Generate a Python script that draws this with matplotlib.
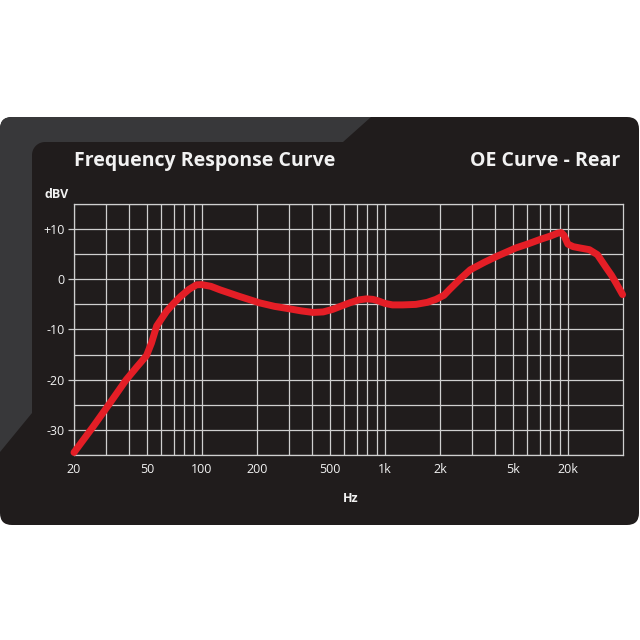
import matplotlib
matplotlib.use("Agg")
import matplotlib.pyplot as plt
import numpy as np
from matplotlib.patches import FancyBboxPatch, Polygon

# response curve (Hz, dBV)
freq = [20, 25.5, 31.5, 38.6, 44, 49.8, 53, 56.6, 64, 70, 76.6, 85, 93.4, 99.5,
        112, 125.6, 160, 207, 250, 303, 350, 405, 460, 517, 580, 641, 720, 794,
        860, 921, 1000, 1100, 1250, 1476, 1700, 1900, 2100, 2259, 2600, 2928,
        3500, 4100, 5200, 6000, 7000, 8000, 8800, 9200, 9500, 10000, 10700,
        11600, 13100, 14500, 16200, 17300, 18300, 19900]
level = [-34.5, -29.3, -24.6, -20.0, -17.5, -15.2, -12.7, -9.3, -6.4, -4.8, -3.4,
         -2.0, -1.1, -1.05, -1.4, -2.1, -3.4, -4.7, -5.4, -5.9, -6.3, -6.6, -6.5,
         -6.0, -5.3, -4.7, -4.1, -3.9, -4.0, -4.3, -4.8, -5.1, -5.1, -5.0, -4.6,
         -4.0, -3.2, -2.0, 0.2, 1.9, 3.4, 4.6, 6.25, 7.0, 7.9, 8.6, 9.2, 9.3, 8.8,
         7.0, 6.5, 6.25, 5.9, 4.9, 2.3, 0.8, -0.7, -3.05]

grid_x = list(range(20, 100, 10)) + list(range(100, 1000, 100)) + list(range(1000, 10001, 1000))
x_ticks = [20, 50, 100, 200, 500, 1000, 2000, 5000, 10000]
x_labels = ['20', '50', '100', '200', '500', '1k', '2k', '5k', '20k']
y_ticks = [10, 0, -10, -20, -30]
y_labels = ['+10', '0', '-10', '-20', '-30']
grid_y = list(range(-35, 16, 5))

font = ['Open Sans', 'DejaVu Sans']
grid_col = '#cfcfcf'
txt_col = '#f2f2f2'

fig = plt.figure(figsize=(6.4, 6.4), dpi=100)
fig.patch.set_facecolor('white')

# background panel, drawn in pixel coordinates
bg = fig.add_axes([0, 0, 1, 1])
bg.set_xlim(0, 640)
bg.set_ylim(640, 0)
bg.axis('off')

outer = FancyBboxPatch((0, 117), 639, 408, boxstyle='round,pad=0,rounding_size=12',
                       fc='#201c1c', ec='none')
bg.add_patch(outer)

# lighter bevel on top and left, with a rounded inner corner
r = 13
t = np.linspace(-np.pi / 2, -np.pi, 12)
corner = [(32 + r + r * np.cos(a), 142 + r + r * np.sin(a)) for a in t]
pts = [(0, 117), (371, 117), (343, 142)] + corner + [(32, 413), (0, 452)]
light = Polygon(pts, closed=True, fc='#38383a', ec='none')
bg.add_patch(light)
light.set_clip_path(outer)

bg.text(74, 161, 'Frequency Response Curve', color=txt_col, fontsize=14,
        fontweight='bold', family=font, ha='left', va='center')
bg.text(620, 161, 'OE Curve - Rear', color=txt_col, fontsize=14,
        fontweight='bold', family=font, ha='right', va='center')
bg.text(57, 194, 'dBV', color=txt_col, fontsize=9, fontweight='bold',
        family=font, ha='center', va='center')
bg.text(351, 499, 'Hz', color=txt_col, fontsize=9, fontweight='bold',
        family=font, ha='center', va='center')

# chart area
ax = fig.add_axes([74 / 640, 185 / 640, 549 / 640, 251 / 640])
ax.set_facecolor('none')
ax.set_xscale('log')
ax.set_xlim(20, 20000)
ax.set_ylim(-35, 15)

for gx in grid_x:
    ax.axvline(gx, color=grid_col, lw=0.9, zorder=1)
for gy in grid_y:
    ax.axhline(gy, color=grid_col, lw=0.9, zorder=1)

ax.plot(freq, level, color='#e41e26', lw=5, solid_joinstyle='round',
        solid_capstyle='round', zorder=3, clip_on=False)

ax.set_xticks(x_ticks)
ax.set_xticklabels(x_labels)
ax.xaxis.set_minor_locator(matplotlib.ticker.NullLocator())
ax.set_yticks(y_ticks)
ax.set_yticklabels(y_labels)
ax.tick_params(axis='x', length=0, pad=6, labelsize=9, labelcolor=txt_col)
ax.tick_params(axis='y', length=4.5, width=0.9, color=grid_col, pad=2,
               labelsize=9, labelcolor=txt_col)
for lab in ax.get_xticklabels() + ax.get_yticklabels():
    lab.set_family(font)

for sp in ax.spines.values():
    sp.set_color(grid_col)
    sp.set_linewidth(0.9)

fig.savefig('out.png', dpi=100, facecolor='white')
